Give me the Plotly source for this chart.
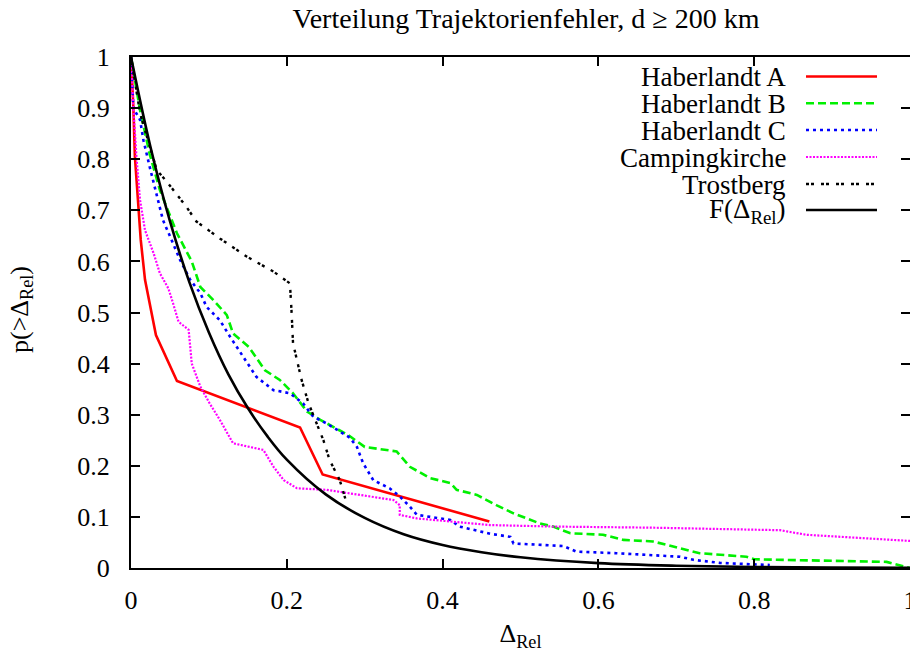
import plotly.graph_objects as go

# ---------------- data ----------------
hab_a_x = [0, 0.003, 0.005, 0.008, 0.0125, 0.018, 0.032, 0.059, 0.217, 0.246, 0.46]
hab_a_y = [1, 0.903, 0.805, 0.74, 0.642, 0.564, 0.456, 0.366, 0.275, 0.183, 0.091]

hab_b_x = [0, 0.0116, 0.024, 0.037, 0.059, 0.078, 0.089, 0.106, 0.123, 0.131, 0.151,
           0.172, 0.191, 0.208, 0.226, 0.243, 0.279, 0.30, 0.341, 0.358, 0.384, 0.41,
           0.418, 0.444, 0.469, 0.491, 0.525, 0.542, 0.564, 0.606, 0.632, 0.67, 0.696,
           0.73, 0.79, 0.80, 0.97, 0.99, 1.0]
hab_b_y = [1, 0.896, 0.81, 0.74, 0.655, 0.60, 0.55, 0.524, 0.495, 0.459, 0.433,
           0.387, 0.368, 0.342, 0.306, 0.29, 0.26, 0.237, 0.228, 0.198, 0.176, 0.166,
           0.153, 0.143, 0.123, 0.107, 0.087, 0.081, 0.068, 0.065, 0.055, 0.052, 0.042,
           0.029, 0.022, 0.017, 0.012, 0.003, 0.0]

hab_c_x = [0, 0.003, 0.0116, 0.016, 0.024, 0.031, 0.041, 0.054, 0.063, 0.076, 0.089,
           0.097, 0.114, 0.127, 0.144, 0.161, 0.183, 0.204, 0.221, 0.234, 0.251, 0.281,
           0.29, 0.298, 0.311, 0.332, 0.345, 0.358, 0.367, 0.41, 0.422, 0.461, 0.487,
           0.491, 0.555, 0.572, 0.623, 0.705, 0.722, 0.756, 0.80, 0.82]
hab_c_y = [1, 0.90, 0.877, 0.837, 0.785, 0.74, 0.681, 0.635, 0.603, 0.564, 0.538,
           0.511, 0.485, 0.453, 0.414, 0.374, 0.348, 0.342, 0.322, 0.296, 0.283, 0.255,
           0.237, 0.205, 0.172, 0.156, 0.14, 0.12, 0.104, 0.094, 0.081, 0.067, 0.061,
           0.048, 0.043, 0.032, 0.029, 0.022, 0.016, 0.010, 0.007, 0.006]

camp_x = [0, 0.003, 0.007, 0.0116, 0.018, 0.029, 0.037, 0.048, 0.054, 0.061, 0.074,
          0.078, 0.089, 0.101, 0.114, 0.131, 0.17, 0.183, 0.196, 0.213, 0.251, 0.281,
          0.337, 0.345, 0.345, 0.367, 0.414, 0.461, 0.546, 0.666, 0.833, 0.867, 1.0]
camp_y = [1, 0.90, 0.805, 0.72, 0.661, 0.616, 0.577, 0.547, 0.518, 0.482, 0.466,
          0.40, 0.355, 0.322, 0.29, 0.244, 0.231, 0.198, 0.172, 0.156, 0.153, 0.146,
          0.133, 0.123, 0.104, 0.097, 0.091, 0.084, 0.081, 0.079, 0.074, 0.065, 0.053]

trost_x = [0, 0.0116, 0.033, 0.046, 0.071, 0.084, 0.114, 0.149, 0.183, 0.204, 0.206,
           0.208, 0.213, 0.219, 0.228, 0.238, 0.247, 0.255, 0.268, 0.275]
trost_y = [1, 0.89, 0.779, 0.756, 0.707, 0.678, 0.645, 0.609, 0.58, 0.557, 0.505,
           0.44, 0.407, 0.368, 0.322, 0.283, 0.25, 0.211, 0.172, 0.136]

f_x = [0, 0.025, 0.05, 0.075, 0.1, 0.125, 0.15, 0.175, 0.2, 0.25, 0.3, 0.35, 0.4,
       0.45, 0.5, 0.6, 0.7, 0.8, 0.9, 1.0]
f_y = [1, 0.824, 0.679, 0.559, 0.461, 0.379, 0.313, 0.258, 0.212, 0.144, 0.098, 0.066,
       0.045, 0.031, 0.021, 0.0096, 0.0044, 0.0020, 0.0009, 0.0004]

names = ["Haberlandt A", "Haberlandt B", "Haberlandt C", "Campingkirche", "Trostberg",
         "F(Δ<sub>Rel</sub>)"]
x_ticks = [0, 0.2, 0.4, 0.6, 0.8, 1]
x_tick_text = ["0", "0.2", "0.4", "0.6", "0.8", "1"]
y_ticks = [0, 0.1, 0.2, 0.3, 0.4, 0.5, 0.6, 0.7, 0.8, 0.9, 1]
y_tick_text = ["0", "0.1", "0.2", "0.3", "0.4", "0.5", "0.6", "0.7", "0.8", "0.9", "1"]

# ---------------- styling ----------------
FONT = "Liberation Serif, Times New Roman, serif"
FS = 26
styles = [
    dict(color="#ff0000", width=2.6, dash="solid"),
    dict(color="#00f000", width=2.6, dash="8px,4px"),
    dict(color="#0000ff", width=2.6, dash="3px,4px"),
    dict(color="#ff00ff", width=2.2, dash="2px,1.5px"),
    dict(color="#000000", width=2.4, dash="3px,2px,3px,7px"),
    dict(color="#000000", width=2.6, dash="solid"),
]
series = [(hab_a_x, hab_a_y), (hab_b_x, hab_b_y), (hab_c_x, hab_c_y),
          (camp_x, camp_y), (trost_x, trost_y), (f_x, f_y)]

fig = go.Figure()
for (xs, ys), nm, st in zip(series, names, styles):
    shape = "spline" if nm.startswith("F(") else "linear"
    fig.add_trace(go.Scatter(x=xs, y=ys, mode="lines", name=nm, showlegend=False,
                             line=dict(color=st["color"], width=st["width"],
                                       dash=st["dash"], shape=shape)))

# page body has an 8px margin -> figure sized to the visible area
OFF = 8
W, H = 918 - OFF, 653 - OFF
L, R, T, B = 131 - OFF, 8, 57 - OFF, 85
pw, ph = W - L - R, H - T - B
def px2x(p):  # reference screen px -> paper x
    return (p - OFF - L) / pw
def py2y(p):  # reference screen px -> paper y
    return (H - B - (p - OFF)) / ph

rows = [76.5, 103.3, 130, 157, 184, 210]
for nm, st, ry in zip(names, styles, rows):
    fig.add_annotation(x=px2x(788), y=py2y(ry + 1), xref="paper", yref="paper",
                       text=nm, showarrow=False, xanchor="right", yanchor="middle",
                       font=dict(family=FONT, size=27, color="black"))
    fig.add_shape(type="line", xref="paper", yref="paper",
                  x0=px2x(806), x1=px2x(877), y0=py2y(ry), y1=py2y(ry),
                  line=dict(color=st["color"], width=st["width"], dash=st["dash"]))

# y-axis title placed like gnuplot's
fig.add_annotation(x=px2x(21), y=py2y(310), xref="paper", yref="paper",
                   text="p(>Δ<sub>Rel</sub>)", textangle=-90, showarrow=False,
                   xanchor="center", yanchor="middle",
                   font=dict(family=FONT, size=FS, color="black"))

axis_common = dict(range=[0, 1], showgrid=False, zeroline=False, showline=True,
                   linecolor="black", linewidth=2, mirror="ticks", ticks="inside",
                   ticklen=9, tickwidth=2, tickcolor="black", automargin=False,
                   tickfont=dict(family=FONT, size=FS, color="black"))

fig.update_layout(
    width=W, height=H,
    margin=dict(l=L, r=R, t=T, b=B, autoexpand=False),
    plot_bgcolor="white", paper_bgcolor="white",
    font=dict(family=FONT, size=FS, color="black"),
    title=dict(text="Verteilung Trajektorienfehler, d ≥ 200 km",
               x=(526 - OFF) / W, xref="container", xanchor="center",
               y=1 - (18 - OFF) / H, yref="container", yanchor="middle",
               automargin=False,
               font=dict(family=FONT, size=28, color="black")),
    xaxis=dict(axis_common, tickvals=x_ticks, ticktext=x_tick_text,
               ticklabelstandoff=8,
               title=dict(text="Δ<sub>Rel</sub>", standoff=10,
                          font=dict(family=FONT, size=FS))),
    yaxis=dict(axis_common, tickvals=y_ticks, ticktext=y_tick_text,
               ticklabelstandoff=14),
    showlegend=False,
)

fig.write_html("out.html")
